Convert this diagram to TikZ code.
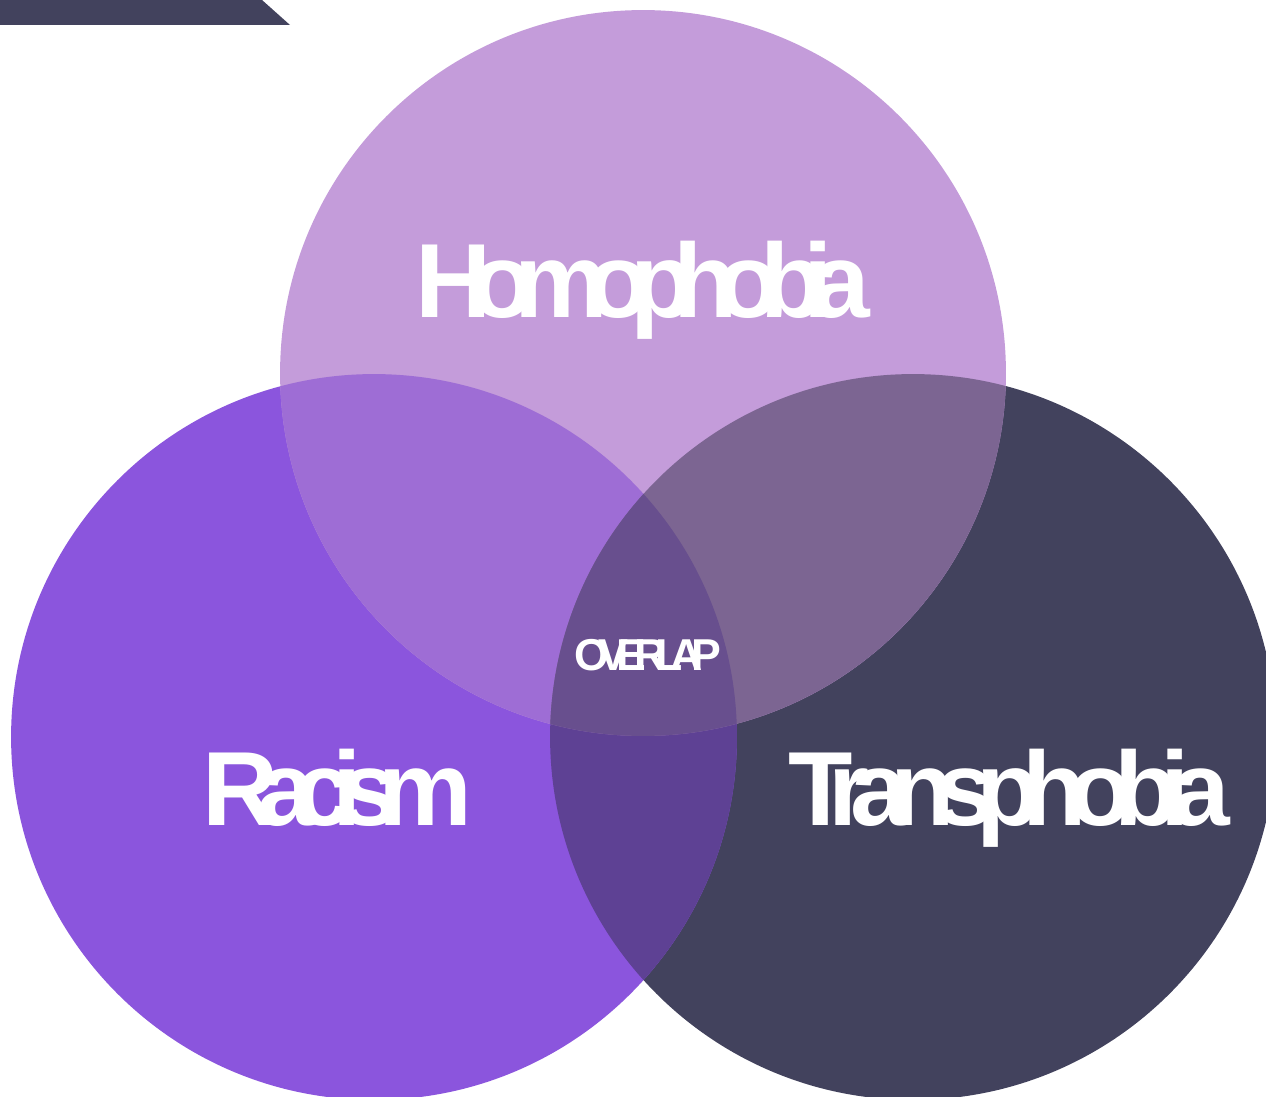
\documentclass[tikz,border=0pt]{standalone}
\usepackage{fontspec}
\newfontfamily\vennfont{Liberation Sans}[LetterSpace=-20]
\newfontfamily\widevennfont{Liberation Sans}[LetterSpace=-17.6]
\newfontfamily\overlapfont{Liberation Sans}[LetterSpace=-26]
\definecolor{homocol}{HTML}{C49CDA}
\definecolor{racicol}{HTML}{8B55DD}
\definecolor{transcol}{HTML}{42425D}
\definecolor{homoraci}{HTML}{9E6DD5}
\definecolor{homotrans}{HTML}{7C6592}
\definecolor{racitrans}{HTML}{5E4194}
\definecolor{allthree}{HTML}{684F8E}
\tikzset{
  x=0.02cm, y=-0.02cm,
}
\tikzstyle{bigword}=[text=white,font=\vennfont\bfseries\fontsize{60}{60}\selectfont,anchor=base,inner sep=0pt]
\tikzstyle{smallword}=[text=white,font=\overlapfont\bfseries\fontsize{25.4}{26}\selectfont,anchor=base,inner sep=0pt]
\def\rad{7.26cm}

\begin{document}
\begin{tikzpicture}
    \useasboundingbox (0,0) rectangle (1266,1097);
    \coordinate (homo) at (643,373);
    \coordinate (raci) at (374,737);
    \coordinate (trans) at (913,737);

    % corner bar
    \fill[transcol] (0,0)--(262,0)--(290,25)--(0,25)--cycle;

    % the three circles
    \fill[transcol] (trans) circle (\rad);
    \fill[racicol] (raci) circle (\rad);
    \fill[homocol] (homo) circle (\rad);

    % overlaps
    \begin{scope}
      \clip (raci) circle (\rad);
      \fill[racitrans] (trans) circle (\rad);
    \end{scope}
    \begin{scope}
      \clip (homo) circle (\rad);
      \fill[homoraci] (raci) circle (\rad);
      \fill[homotrans] (trans) circle (\rad);
      \clip (raci) circle (\rad);
      \fill[allthree] (trans) circle (\rad);
    \end{scope}

    \node[bigword] (homotext) at (643,318) {Homophobia};
    \node[bigword] (racitext) at (337,825) {Racism};
    \node[bigword,font=\widevennfont\bfseries\fontsize{60}{60}\selectfont] (transtext) at (1009,825) {Transphobia};
    \node[smallword] (overlaptext) at (648,670) {OVERLAP};
  \end{tikzpicture}
\end{document}
